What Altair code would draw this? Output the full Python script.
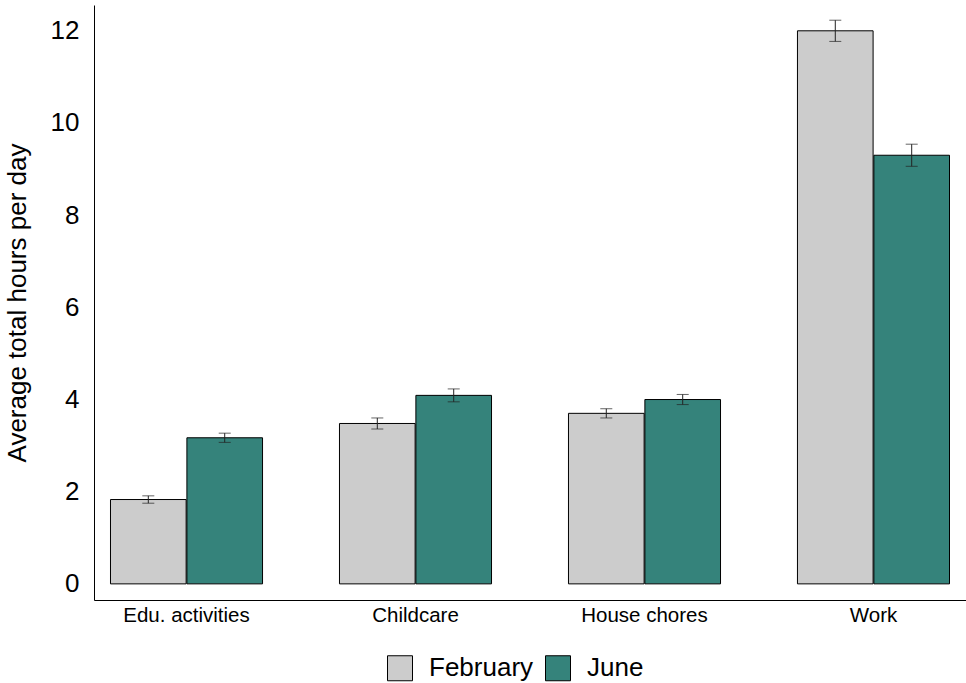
import altair as alt
import pandas as pd

categories = ["Edu. activities", "Childcare", "House chores", "Work"]
months = ["February", "June"]
feb_values = [1.83, 3.48, 3.70, 12.00]
feb_err = [0.08, 0.12, 0.10, 0.23]
jun_values = [3.17, 4.09, 4.00, 9.30]
jun_err = [0.10, 0.14, 0.11, 0.24]
colors = ["#cccccc", "#35837b"]

rows = []
for i, c in enumerate(categories):
    rows.append({"cat": c, "month": "February", "v": feb_values[i],
                 "lo": feb_values[i] - feb_err[i], "hi": feb_values[i] + feb_err[i]})
    rows.append({"cat": c, "month": "June", "v": jun_values[i],
                 "lo": jun_values[i] - jun_err[i], "hi": jun_values[i] + jun_err[i]})
df = pd.DataFrame(rows)
caps = pd.concat([
    df[["cat", "month", "lo"]].rename(columns={"lo": "e"}),
    df[["cat", "month", "hi"]].rename(columns={"hi": "e"}),
])

FONT = "Liberation Sans"
xscale = alt.Scale(domain=categories, paddingInner=0.336, paddingOuter=0.072)
xoff = alt.Scale(domain=months, paddingInner=0.01, paddingOuter=0)
yscale = alt.Scale(domain=[-0.35, 12.56], nice=False, zero=False)

x = alt.X("cat:N", scale=xscale, sort=categories,
          axis=alt.Axis(title=None, labelAngle=0, labelFontSize=20.5, labelPadding=5,
                        labelColor="black", ticks=False, domainColor="black",
                        domainWidth=1, grid=False, labelFont=FONT))
xo = alt.XOffset("month:N", scale=xoff, sort=months)
y = alt.Y("v:Q", scale=yscale,
          axis=alt.Axis(title="Average total hours per day", values=[0, 2, 4, 6, 8, 10, 12],
                        labelFontSize=26, titleFontSize=26, titleFontWeight="normal",
                        labelColor="black", titleColor="black", ticks=False,
                        domainColor="black", domainWidth=1, grid=False,
                        labelPadding=15, titlePadding=20, labelFont=FONT, titleFont=FONT))

bars = alt.Chart(df).mark_bar(stroke="black", strokeWidth=1).encode(
    x=x, xOffset=xo, y=y, y2=alt.Y2(datum=0),
    color=alt.Color("month:N", sort=months,
                    scale=alt.Scale(domain=months, range=colors),
                    legend=alt.Legend(title=None, orient="none", direction="horizontal",
                                      legendX=293, legendY=650,
                                      symbolType="square", symbolSize=625,
                                      symbolStrokeColor="black", symbolStrokeWidth=1,
                                      symbolOpacity=1, labelFontSize=26, labelFont=FONT,
                                      labelColor="black", labelOffset=16, columnPadding=9)),
)

err = alt.Chart(df).mark_rule(color="#222222", strokeWidth=1).encode(
    x=alt.X("cat:N", scale=xscale, sort=categories),
    xOffset=xo,
    y=alt.Y("lo:Q", scale=yscale),
    y2="hi:Q",
)

capm = alt.Chart(caps).mark_tick(color="#222222", thickness=1, size=12, orient="horizontal").encode(
    x=alt.X("cat:N", scale=xscale, sort=categories),
    xOffset=xo,
    y=alt.Y("e:Q", scale=yscale),
)

chart = alt.layer(bars, err, capm).properties(
    width=872, height=595,
    autosize=alt.AutoSizeParams(type="none"),
    padding={"left": 94, "top": 5, "right": 0, "bottom": 83},
).configure(font=FONT).configure_view(strokeWidth=0, stroke="transparent")

chart.save("out.html", embed_options={"renderer": "svg", "actions": False})
